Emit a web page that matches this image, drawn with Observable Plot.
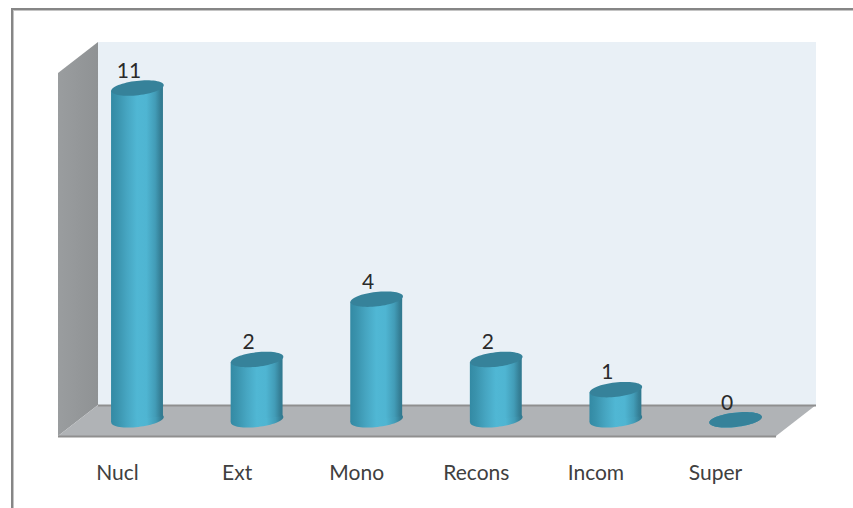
<!DOCTYPE html>
<html>
<head>
<meta charset="utf-8">
<script src="https://cdn.jsdelivr.net/npm/d3@7"></script>
<script src="https://cdn.jsdelivr.net/npm/@observablehq/plot@0.6"></script>
<style>
html,body{margin:0;padding:0;background:#fff;overflow:hidden}
#page{position:relative;width:853px;height:508px;overflow:hidden}
#edge{position:absolute;left:11px;top:8px;width:900px;height:600px;border-left:2px solid #868686;border-top:2px solid #868686;box-shadow:inset 1px 1px 0 #c4c4c4}
#chart{position:absolute;left:0;top:0}
svg{display:block;background:transparent!important}
</style>
</head>
<body>
<div id="page"><div id="edge"></div><div id="chart"></div></div>
<script>
const categories = ["Nucl", "Ext", "Mono", "Recons", "Incom", "Super"];
const counts = [11, 2, 4, 2, 1, 0];

const rows = categories.map((name, i) => ({name, i, value: counts[i]}));
const halfWidth = 0.217, tilt = 0.1, rx = 26.4, ry = 7.2, angle = -6.5 * Math.PI / 180;

// 3D box, in data units
const xMin = -0.6605, xMax = 5.677, yMin = -0.554, yMax = 12.51;
const xBack = -0.326, xFront = 5.343, yBack = 0.474, yWallFront = 11.48;

const ellipse = {
  draw(ctx) {
    const n = 64;
    for (let k = 0; k < n; ++k) {
      const t = 2 * Math.PI * k / n;
      const a = rx * Math.cos(t), b = ry * Math.sin(t);
      const px = a * Math.cos(angle) - b * Math.sin(angle);
      const py = a * Math.sin(angle) + b * Math.cos(angle);
      k ? ctx.lineTo(px, py) : ctx.moveTo(px, py);
    }
    ctx.closePath();
  }
};

const bodies = rows.flatMap(d => [
  {i: d.i, x: d.i - halfWidth, top: d.value - tilt, base: -tilt},
  {i: d.i, x: d.i + halfWidth, top: d.value + tilt, base: tilt}
]);

const defs = () => {
  const svg = d3.create("svg:g");
  const stopsBar = [[0,"#338aa4"],[0.12,"#3a93ad"],[0.3,"#46a5c1"],[0.5,"#50b7d4"],[0.68,"#4fb5d2"],[0.85,"#429cb7"],[0.95,"#357f96"],[1,"#30788e"]];
  const defsEl = svg.append("defs");
  const g = defsEl.append("linearGradient").attr("id","barGrad").attr("x1",0).attr("x2",1).attr("y1",0).attr("y2",0);
  stopsBar.forEach(([o,c]) => g.append("stop").attr("offset",o).attr("stop-color",c));
  const w = defsEl.append("linearGradient").attr("id","sideGrad").attr("x1",0).attr("x2",1).attr("y1",0).attr("y2",0);
  [[0,"#9a9d9f"],[1,"#8f9294"]].forEach(([o,c]) => w.append("stop").attr("offset",o).attr("stop-color",c));
  return svg.node();
};

const plot = Plot.plot({
  width: 853, height: 508,
  marginLeft: 58, marginRight: 37, marginTop: 42, marginBottom: 72,
  style: {background: "transparent", overflow: "visible"},
  x: {domain: [xMin, xMax]},
  y: {domain: [yMin, yMax], axis: null},
  marks: [
    defs,
    Plot.rect([0], {x1: xBack, x2: xMax, y1: yBack, y2: yMax, fill: "#e9f0f6"}),
    Plot.area([{x: xMin, y1: yMin, y2: yWallFront}, {x: xBack, y1: yBack, y2: yMax}], {x1: "x", y1: "y1", y2: "y2", fill: "url(#sideGrad)"}),
    Plot.area([{y: yMin, x1: xMin, x2: xFront}, {y: yBack, x1: xBack, x2: xMax}], {y1: "y", x1: "x1", x2: "x2", fill: "#b0b3b6"}),
    Plot.ruleY([yBack], {x1: xBack, x2: xMax, stroke: "#8f8f8f", strokeWidth: 2}),
    Plot.ruleY([yMin], {x1: xMin, x2: xFront, stroke: "#8f8f8f", strokeWidth: 2}),
    Plot.dot(rows, {x: "i", y: 0, symbol: ellipse, r: 1, fill: "url(#barGrad)", stroke: "none"}),
    Plot.area(bodies, {x1: "x", y1: "base", y2: "top", z: "i", fill: "url(#barGrad)"}),
    Plot.dot(rows, {x: "i", y: "value", symbol: ellipse, r: 1, fill: "#36829a", stroke: "none"}),
    Plot.text(rows, {x: "i", y: "value", text: d => String(d.value), dx: -8.5, dy: -17, fontSize: 21, fontFamily: "Lato", fill: "#2a2a2a"}),
    Plot.axisX({
      ticks: d3.range(categories.length),
      tickFormat: i => categories[i],
      tickSize: 0, tickPadding: 29, dx: -20,
      fontSize: 21, fontFamily: "Lato", fill: "#404040", label: null,
      style: {letterSpacing: "0.3px"}
    })
  ]
});
document.getElementById("chart").appendChild(plot);
</script>
</body>
</html>
